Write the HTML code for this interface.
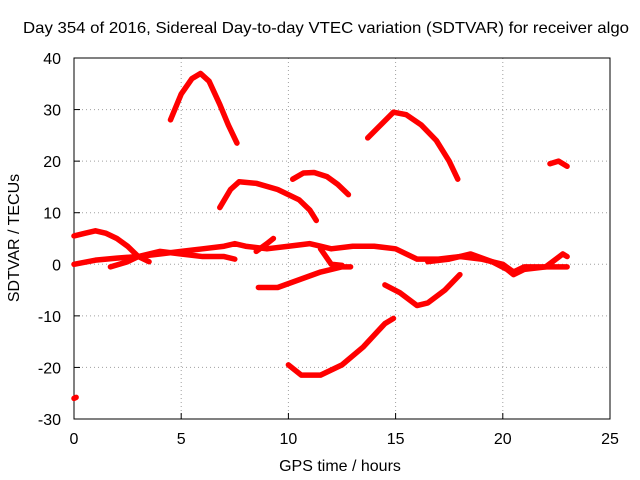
<!DOCTYPE html>
<html><head><meta charset="utf-8"><style>
body{margin:0;background:#fff;}
svg{display:block;font-family:"Liberation Sans",sans-serif;}
</style></head><body>
<svg id="chart" width="640" height="480" viewBox="0 0 640 480">
<rect width="640" height="480" fill="#fff"/>
<text x="326" y="33" font-size="16" text-anchor="middle" textLength="606" lengthAdjust="spacingAndGlyphs">Day 354 of 2016, Sidereal Day-to-day VTEC variation (SDTVAR) for receiver algo</text>
<g id="grid"></g>
<g id="axes"></g>
<g id="series"></g>
<text x="340" y="471" font-size="16" text-anchor="middle">GPS time / hours</text>
<text x="19" y="238" font-size="16" text-anchor="middle" transform="rotate(-90 19 238)">SDTVAR / TECUs</text>
</svg>
<script>
const xTicks=[0,5,10,15,20,25];
const yTicks=[-30,-20,-10,0,10,20,30,40];
const arcPeak=[[4.5,28],[5,33],[5.5,36],[5.9,37],[6.3,35.5],[6.8,31],[7.2,27],[7.6,23.5]];
const arcMid1=[[6.8,11],[7.3,14.5],[7.7,16],[8.5,15.7],[9.5,14.5],[10.5,12.5],[11,10.5],[11.3,8.5]];
const arcMid2=[[10.2,16.5],[10.7,17.7],[11.2,17.8],[11.8,17],[12.3,15.5],[12.8,13.5]];
const arcRight=[[13.7,24.5],[14.3,27],[14.9,29.5],[15.5,29],[16.2,27],[16.9,24],[17.5,20],[17.9,16.5]];
const arcSmall=[[22.2,19.5],[22.6,20],[23,19]];
const arcStart=[[0,5.5],[0.5,6],[1,6.5],[1.5,6],[2,5],[2.5,3.5],[3,1.5],[3.5,0.5]];
const arcNeg1=[[8.6,-4.5],[9.5,-4.5],[10.5,-3],[11.5,-1.5],[12.5,-0.5],[12.9,-0.5]];
const arcNeg2=[[10,-19.5],[10.6,-21.5],[11.5,-21.5],[12.5,-19.5],[13.5,-16],[14.5,-11.5],[14.9,-10.5]];
const arcNeg3=[[14.5,-4],[15.2,-5.5],[16,-8],[16.5,-7.5],[17.3,-5],[18,-2]];
const arcLow=[[0,-26],[0.1,-25.8]];
const band1=[[0,0],[1,0.8],[2,1.2],[3,1.5],[4,2],[5,2.5],[6,3],[7,3.5],[7.5,4],[8,3.5],[9,3],[10,3.5],[11,4],[11.5,3.5],[12,3],[13,3.5],[14,3.5],[15,3],[16,1],[17,1],[18,1.5],[19,1],[20,0],[20.5,-1.5],[21,-0.5],[22,-0.5],[23,-0.5]];
const band2=[[1.7,-0.5],[2.5,0.5],[3,1.5],[4,2.5],[5,2],[6,1.5],[7,1.5],[7.5,1]];
const band3=[[8.5,2.5],[9,4],[9.3,5]];
const band4=[[11.5,3],[12,0],[12.5,-0.2]];
const band5=[[16.5,0.5],[17.5,1],[18.5,2],[19.5,0.5],[20.2,-1],[20.5,-2],[21,-1],[22,-0.5],[22.8,2],[23,1.5]];
const allSeries=[arcPeak,arcMid1,arcMid2,arcRight,arcSmall,arcStart,arcNeg1,arcNeg2,arcNeg3,arcLow,band1,band2,band3,band4,band5];
const X0=74,X1=610,Y0=419,Y1=58;
const sx=v=>X0+(v-0)/25*(X1-X0);
const sy=v=>Y0-(v+30)/70*(Y0-Y1);
const NS="http://www.w3.org/2000/svg";
const grid=document.getElementById('grid'),axes=document.getElementById('axes'),ser=document.getElementById('series');
function mk(tag,attrs,parent){const e=document.createElementNS(NS,tag);for(const k in attrs)e.setAttribute(k,attrs[k]);parent.appendChild(e);return e;}
xTicks.forEach(t=>{
 const x=sx(t);
 if(t>0&&t<25){const l=mk('line',{x1:x,x2:x,y1:Y1,y2:Y0,stroke:'#a0a0a0','stroke-dasharray':'1,3'},grid);
 
 }
 const tk=mk('line',{x1:x,x2:x,y1:Y0,y2:Y0-6,stroke:'#000'},axes);
 
 
 const tx=mk('text',{x:x,y:Y0+25,'font-size':16,'text-anchor':'middle'},axes);
 tx.textContent=t;
 
 
});
yTicks.forEach(t=>{
 const y=sy(t);
 if(t>-30&&t<40){const l=mk('line',{x1:X0,x2:X1,y1:y,y2:y,stroke:'#a0a0a0','stroke-dasharray':'1,3'},grid);
 
 }
 const tk=mk('line',{x1:X0,x2:X0+6,y1:y,y2:y,stroke:'#000'},axes);
 
 
 const tx=mk('text',{x:X0-13,y:y+6,'font-size':16,'text-anchor':'end'},axes);
 tx.textContent=t;
 
 
});
const fr=mk('rect',{x:X0,y:Y1,width:X1-X0,height:Y0-Y1,fill:'none',stroke:'#000'},axes);


allSeries.forEach(s=>{
 const p=mk('polyline',{points:s.map(d=>sx(d[0])+','+sy(d[1])).join(' '),fill:'none',stroke:'#ff0000','stroke-width':5.5,'stroke-linejoin':'round','stroke-linecap':'round'},ser);
 
 
});
</script>
</body></html>
